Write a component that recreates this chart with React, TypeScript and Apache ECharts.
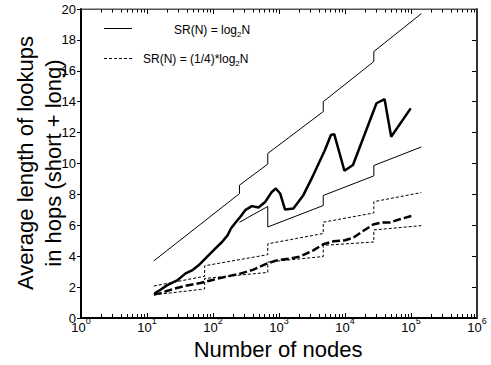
import React, { useEffect, useRef } from "react";
import * as echarts from "echarts";

// ---- data ----
const xMin = 1;
const xMax = 1000000;
const xMinorTicks = [
  2, 3, 4, 5, 6, 7, 8, 9,
  20, 30, 40, 50, 60, 70, 80, 90,
  200, 300, 400, 500, 600, 700, 800, 900,
  2000, 3000, 4000, 5000, 6000, 7000, 8000, 9000,
  20000, 30000, 40000, 50000, 60000, 70000, 80000, 90000,
  200000, 300000, 400000, 500000, 600000, 700000, 800000, 900000,
];
const yMin = 0;
const yMax = 20;
const yStep = 2;

// simulation, SR(N) = log2 N (thick solid)
const simLog2N: [number, number][] = [
  [13, 1.6], [16, 1.83], [20, 2.11], [28.6, 2.43], [38, 2.87], [48, 3.08],
  [60.5, 3.41], [81, 3.95], [108, 4.49], [137, 4.92], [166, 5.35], [187, 5.79],
  [217, 6.15], [258, 6.54], [308, 6.98], [388, 7.24], [489, 7.15], [617, 7.51],
  [778, 8.16], [895, 8.38], [1040, 8.06], [1236, 7.02], [1652, 7.09],
  [2340, 7.95], [3310, 9.25], [4970, 10.87], [6120, 11.84], [6870, 11.9],
  [9800, 9.53], [13200, 9.9], [30000, 13.9], [39800, 14.16], [50100, 11.73],
  [98900, 13.57],
];

// simulation, SR(N) = (1/4)*log2 N (thick dashed)
const simQuarterLog2N: [number, number][] = [
  [12.7, 1.52], [16, 1.61], [25.4, 1.89], [40.5, 2.11], [64.3, 2.26],
  [102, 2.48], [163, 2.69], [258, 2.87], [410, 3.13], [653, 3.52], [927, 3.73],
  [1470, 3.85], [2085, 3.98], [3310, 4.38], [4680, 4.77], [6640, 4.96],
  [10000, 5.03], [13300, 5.2], [18800, 5.63], [26700, 6.05], [35700, 6.18],
  [47600, 6.18], [67500, 6.39], [101000, 6.6],
];

// bounds for SR(N) = log2 N (thin solid)
const boundLog2NUpper: [number, number][] = [
  [12.7, 3.7], [252, 8.05], [252, 8.6], [676, 9.96], [676, 10.65],
  [4680, 13.36], [4680, 14.0], [27350, 16.6], [27350, 17.25], [143500, 19.7],
];
const boundLog2NLower: [number, number][] = [
  [252, 6.2], [676, 7.22], [676, 5.89], [4680, 7.28], [4680, 7.93],
  [27350, 9.2], [27350, 9.87], [143500, 11.07],
];

// bounds for SR(N) = (1/4)*log2 N (thin dashed)
const boundQuarterUpper: [number, number][] = [
  [12.7, 2.07], [74.6, 2.7], [74.6, 3.38], [676, 4.1], [676, 4.8],
  [4680, 5.47], [4680, 6.2], [27350, 6.8], [27350, 7.53], [143500, 8.12],
];
const boundQuarterLower: [number, number][] = [
  [12.7, 1.5], [74.6, 1.88], [74.6, 2.56], [676, 2.95], [676, 3.62],
  [4680, 3.98], [4680, 4.7], [27350, 4.92], [27350, 5.7], [143500, 5.98],
];

const FONT = "'Liberation Sans', Arial, Helvetica, sans-serif";

export default function App() {
  const ref = useRef<HTMLDivElement>(null);

  useEffect(() => {
    if (!ref.current) return;
    const chart = echarts.init(ref.current, null, { renderer: "svg" });

    const lineSeries = (
      name: string,
      data: [number, number][],
      width: number,
      type: any
    ) => ({
      name,
      type: "line",
      data,
      xAxisIndex: 0,
      yAxisIndex: 0,
      showSymbol: false,
      symbol: "none",
      lineStyle: { color: "#000", width, type },
      z: 3,
    });

    // frame edges drawn as plain line series along the axis extents
    const frameSeries = (
      name: string,
      data: [number, number][],
      color: string,
      width: number
    ) => ({
      name,
      type: "line",
      data,
      xAxisIndex: 0,
      yAxisIndex: 0,
      showSymbol: false,
      symbol: "none",
      clip: false,
      silent: true,
      lineStyle: { color, width, type: "solid" },
      z: 6,
    });

    const richLabel = {
      a: { fontSize: 12, lineHeight: 16, fontFamily: FONT, color: "#000" },
      c: { fontSize: 8, lineHeight: 9, verticalAlign: "bottom", fontFamily: FONT, color: "#000" },
    };

    chart.setOption({
      animation: false,
      grid: { left: 81, right: 14, top: 9, bottom: 47 },
      xAxis: [
        {
          type: "log",
          position: "bottom",
          min: xMin,
          max: xMax,
          splitLine: { show: false },
          axisLine: { show: true, onZero: false, lineStyle: { color: "#000", width: 2 } },
          axisTick: { show: true, inside: true, length: 5, lineStyle: { color: "#000", width: 1 } },
          axisLabel: {
            show: true,
            margin: -2,
            formatter: (v: number) => `{b|10}{s|${Math.round(Math.log10(v))}}`,
            rich: {
              b: { fontSize: 13, lineHeight: 18, verticalAlign: "bottom", color: "#000", fontFamily: FONT },
              s: { fontSize: 9, lineHeight: 9, verticalAlign: "top", color: "#000", fontFamily: FONT },
            },
          },
        },
        {
          type: "log",
          position: "top",
          min: xMin,
          max: xMax,
          splitLine: { show: false },
          axisLine: { show: true, onZero: false, lineStyle: { color: "#555", width: 1 } },
          axisTick: { show: true, inside: true, length: 5, lineStyle: { color: "#000", width: 1 } },
          axisLabel: { show: false },
        },
      ],
      yAxis: [
        {
          type: "value",
          position: "left",
          min: yMin,
          max: yMax,
          interval: yStep,
          splitLine: { show: false },
          axisLine: { show: true, onZero: false, lineStyle: { color: "#000", width: 2 } },
          axisTick: { show: true, inside: false, length: 4, lineStyle: { color: "#000", width: 1 } },
          axisLabel: { show: true, margin: 5, fontSize: 13, color: "#000", fontFamily: FONT },
        },
        {
          type: "value",
          position: "right",
          min: yMin,
          max: yMax,
          interval: yStep,
          splitLine: { show: false },
          axisLine: { show: true, onZero: false, lineStyle: { color: "#444", width: 2 } },
          axisTick: { show: true, inside: true, length: 5, lineStyle: { color: "#000", width: 1 } },
          axisLabel: { show: false },
        },
      ],
      series: [
        frameSeries("frame bottom", [[xMin, yMin], [xMax, yMin]], "#000", 2),
        frameSeries("frame left", [[xMin, yMin], [xMin, yMax]], "#000", 2),
        frameSeries("frame top", [[xMin, yMax], [xMax, yMax]], "#555", 1),
        frameSeries("frame right", [[xMax, yMin], [xMax, yMax]], "#333", 2),
        {
          name: "minor ticks",
          type: "custom",
          xAxisIndex: 0,
          yAxisIndex: 0,
          clip: false,
          silent: true,
          data: xMinorTicks.map((v) => [v, yMin]),
          encode: { x: 0, y: 1 },
          renderItem: (_params: any, api: any) => {
            const v = api.value(0);
            const b = api.coord([v, yMin]);
            const t = api.coord([v, yMax]);
            const x = Math.round(b[0]) + 0.5;
            return {
              type: "group",
              children: [
                { type: "line", shape: { x1: x, y1: b[1], x2: x, y2: b[1] - 4 }, style: { stroke: "#000", lineWidth: 1 } },
                { type: "line", shape: { x1: x, y1: t[1], x2: x, y2: t[1] + 3.5 }, style: { stroke: "#000", lineWidth: 1 } },
              ],
            };
          },
          z: 1,
        },
        lineSeries("bound log2N upper", boundLog2NUpper, 1, "solid"),
        lineSeries("bound log2N lower", boundLog2NLower, 1, "solid"),
        lineSeries("bound quarter upper", boundQuarterUpper, 1, [3, 2]),
        lineSeries("bound quarter lower", boundQuarterLower, 1, [3, 2]),
        lineSeries("SR(N) = log2N", simLog2N, 2.5, "solid"),
        lineSeries("SR(N) = (1/4)*log2N", simQuarterLog2N, 2.5, [8, 3]),
      ],
      graphic: [
        {
          type: "line",
          shape: { x1: 104, y1: 28.5, x2: 132, y2: 28.5 },
          style: { stroke: "#000", lineWidth: 1 },
        },
        {
          type: "text",
          x: 174,
          y: 30,
          style: {
            text: "{a|SR(N) = log}{c|2}{a|N}",
            verticalAlign: "middle",
            align: "left",
            rich: richLabel,
          },
        },
        {
          type: "line",
          shape: { x1: 104, y1: 58.5, x2: 132, y2: 58.5 },
          style: { stroke: "#000", lineWidth: 1, lineDash: [3, 2] },
        },
        {
          type: "text",
          x: 143,
          y: 59,
          style: {
            text: "{a|SR(N) = (1/4)*log}{c|2}{a|N}",
            verticalAlign: "middle",
            align: "left",
            rich: richLabel,
          },
        },
        {
          type: "text",
          x: 25,
          y: 163,
          rotation: Math.PI / 2,
          style: {
            text: "Average length of lookups",
            fontSize: 22,
            fontFamily: FONT,
            align: "center",
            verticalAlign: "middle",
            fill: "#000",
          },
        },
        {
          type: "text",
          x: 53,
          y: 163,
          rotation: Math.PI / 2,
          style: {
            text: "in hops (short + long)",
            fontSize: 22,
            fontFamily: FONT,
            align: "center",
            verticalAlign: "middle",
            fill: "#000",
          },
        },
        {
          type: "text",
          x: 278,
          y: 349,
          style: {
            text: "Number of nodes",
            fontSize: 22,
            fontFamily: FONT,
            align: "center",
            verticalAlign: "middle",
            fill: "#000",
          },
        },
      ],
    });

    return () => chart.dispose();
  }, []);

  return (
    <div
      ref={ref}
      style={{ position: "fixed", left: 0, top: 0, width: 491, height: 365, background: "#fff" }}
    />
  );
}
